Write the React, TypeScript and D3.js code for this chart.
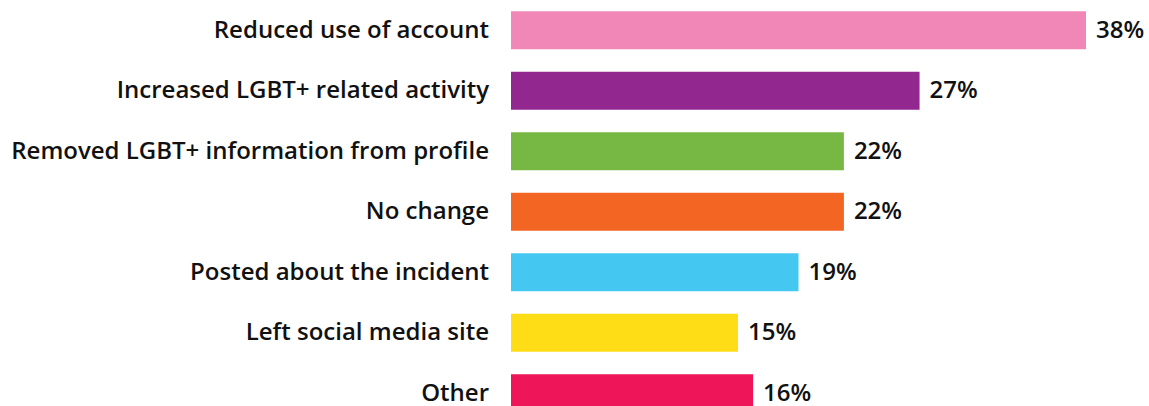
import * as d3 from 'd3';
import React, { useEffect, useRef } from 'react';

const categories = [
  'Reduced use of account',
  'Increased LGBT+ related activity',
  'Removed LGBT+ information from profile',
  'No change',
  'Posted about the incident',
  'Left social media site',
  'Other',
];
const values = [38, 27, 22, 22, 19, 15, 16];
const colors = ['#F087B6', '#92278F', '#76B843', '#F36523', '#44C8F1', '#FEDD17', '#EE1558'];

const width = 1149;
const height = 406;

export default function App() {
  const ref = useRef<SVGSVGElement>(null);

  useEffect(() => {
    const svg = d3.select(ref.current);
    svg.selectAll('*').remove();

    const step = 60.5;
    const x = d3.scaleLinear().domain([0, 38]).range([511, 1086]);
    const y = d3.scaleBand<string>()
      .domain(categories)
      .range([0, step * categories.length])
      .paddingInner(0.372)
      .paddingOuter(0.186);

    const rows = svg.selectAll('g.row')
      .data(categories)
      .enter()
      .append('g')
      .attr('class', 'row');

    rows.append('rect')
      .attr('x', x(0))
      .attr('y', d => y(d)!)
      .attr('width', (d, i) => x(values[i]) - x(0))
      .attr('height', y.bandwidth())
      .attr('fill', (d, i) => colors[i]);

    // category labels
    rows.append('text')
      .attr('x', x(0) - 22)
      .attr('y', d => y(d)! + y.bandwidth() / 2)
      .attr('dy', '0.32em')
      .attr('text-anchor', 'end')
      .text(d => d);

    // value labels
    rows.append('text')
      .attr('x', (d, i) => x(values[i]) + 10)
      .attr('y', d => y(d)! + y.bandwidth() / 2)
      .attr('dy', '0.32em')
      .text((d, i) => values[i] + '%');

    svg.selectAll('text')
      .style('font-family', '"Open Sans", sans-serif')
      .style('font-weight', 600)
      .style('font-size', '24px')
      .attr('fill', '#111');
  }, []);

  return (
    <svg
      ref={ref}
      width={width}
      height={height}
      style={{ position: 'absolute', left: 0, top: 0, background: '#fff' }}
    />
  );
}
